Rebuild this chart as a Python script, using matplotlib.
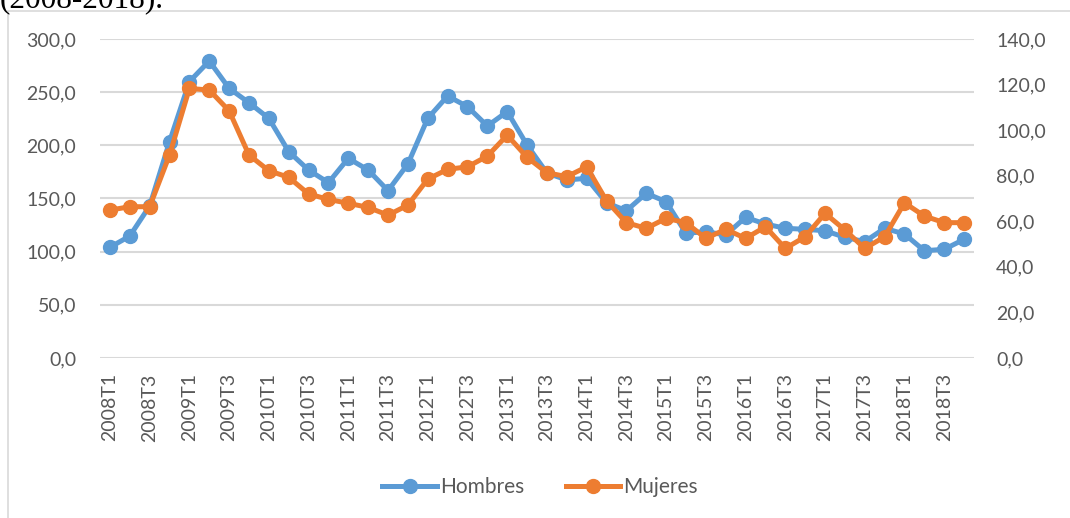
import matplotlib
matplotlib.use("Agg")
import matplotlib.pyplot as plt
from matplotlib.patches import Rectangle

# quarters 2008T1 .. 2018T4
quarters = [f"{y}T{q}" for y in range(2008, 2019) for q in range(1, 5)]

# Hombres (left axis)
hombres = [104.1, 114.7, 143.0, 203.4, 259.9, 279.3, 253.6, 240.1, 225.4, 194.1,
           176.8, 164.9, 187.8, 176.8, 157.4, 182.5, 225.4, 246.4, 236.4, 218.2,
           231.7, 200.3, 174.0, 167.4, 169.0, 146.0, 138.5, 154.9, 147.0, 117.3,
           118.8, 115.7, 132.3, 126.0, 122.0, 121.0, 119.7, 113.5, 109.4, 122.0,
           116.6, 100.9, 102.2, 111.6]

# Mujeres (right axis)
mujeres = [64.9, 66.4, 66.4, 89.1, 118.3, 117.6, 108.5, 89.1, 82.2, 79.3,
           72.0, 69.6, 67.9, 66.1, 62.7, 67.1, 78.5, 82.8, 83.9, 88.6,
           97.8, 88.1, 81.3, 79.6, 83.9, 69.0, 59.4, 56.9, 61.3, 59.4,
           52.5, 56.5, 52.5, 57.6, 48.1, 53.2, 63.5, 56.2, 48.1, 53.2,
           68.1, 62.3, 59.4, 59.4]

left_ticks = [0, 50, 100, 150, 200, 250, 300]
right_ticks = [0, 20, 40, 60, 80, 100, 120, 140]

blue = "#5B9BD5"
orange = "#ED7D31"
grey_txt = "#595959"
grid_c = "#D9D9D9"

plt.rcParams["font.family"] = ["Lato", "DejaVu Sans"]

fig = plt.figure(figsize=(10.7, 5.18), dpi=100)
W, H = 1070, 518

# chart frame (extends past right/bottom edge)
fig.patches.append(Rectangle((8 / W, -0.2), 1.2, 1.2 - 11 / H, transform=fig.transFigure,
                             fill=False, edgecolor=grid_c, linewidth=1.2))

# caption line cut off at the top, as in the screenshot
fig.text(0.0, 1 - 7 / H, "(2008-2018).", fontsize=22.5, family="Liberation Serif",
         va="baseline", ha="left", color="black")

ax = fig.add_axes([100 / W, 1 - 358 / H, 874 / W, 319 / H])
ax2 = ax.twinx()

x = list(range(len(quarters)))
l1, = ax.plot(x, hombres, color=blue, lw=3.6, marker="o", ms=10, label="Hombres", zorder=3)
l2, = ax2.plot(x, mujeres, color=orange, lw=3.6, marker="o", ms=10, label="Mujeres", zorder=3)

ax.set_xlim(-0.5, len(quarters) - 0.5)
ax.set_ylim(0, 300)
ax2.set_ylim(0, 140)
ax.set_yticks(left_ticks)
ax.set_yticklabels([f"{v:.1f}".replace(".", ",") for v in left_ticks])
ax2.set_yticks(right_ticks)
ax2.set_yticklabels([f"{v:.1f}".replace(".", ",") for v in right_ticks])

ax.set_xticks(x[::2])
ax.set_xticklabels(quarters[::2], rotation=90, va="top", ha="center")

for a in (ax, ax2):
    for s in a.spines.values():
        s.set_visible(False)
    a.tick_params(length=0, labelsize=14, labelcolor=grey_txt)
ax.tick_params(axis="y", pad=17)
ax2.tick_params(axis="y", pad=16)
ax.tick_params(axis="x", pad=11)

ax.grid(axis="y", color=grid_c, lw=1.5)
ax.set_axisbelow(True)
ax2.patch.set_visible(False)

fig.legend([l1, l2], ["Hombres", "Mujeres"], loc="center",
           bbox_to_anchor=(540 / W, 1 - 487 / H), ncol=2, frameon=False,
           fontsize=15, labelcolor=grey_txt, handlelength=2.6, handletextpad=0.15,
           columnspacing=2.0)

fig.savefig("out.png", dpi=100)
